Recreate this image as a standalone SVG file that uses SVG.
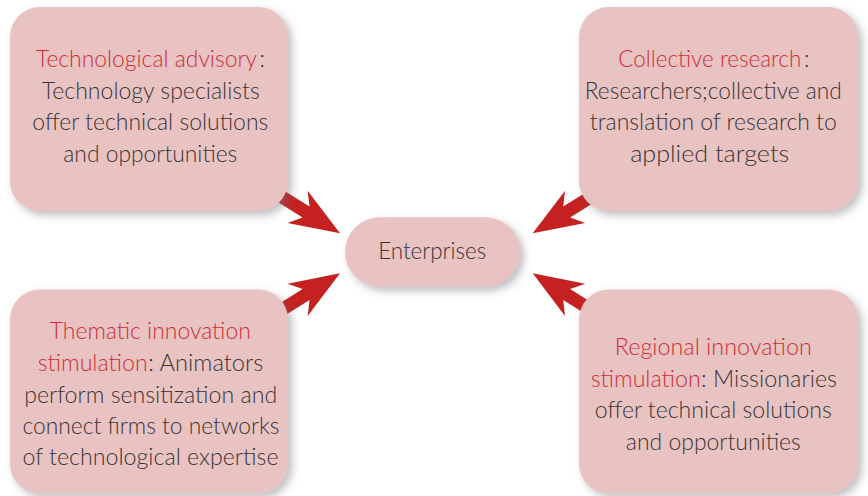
<svg xmlns="http://www.w3.org/2000/svg" width="868" height="496" viewBox="0 0 868 496">
  <defs>
    <filter id="shadow" x="-20%" y="-20%" width="150%" height="150%">
      <feDropShadow dx="4" dy="4" stdDeviation="4" flood-color="#6b6b78" flood-opacity="0.45"/>
    </filter>
    <!-- notched arrow, tip at origin, pointing along +x -->
    <path id="arrow" d="M0,0 L-50,-19 L-40,-6.5 L-95,-6.5 L-95,6.5 L-40,6.5 L-50,19 Z"/>
  </defs>
  <style>
    .box { fill: #e8c3c2; filter: url(#shadow); }
    .txt { font-family: Lato, "Open Sans", "Liberation Sans", sans-serif; font-size: 23px; font-weight: 300; fill: #3a3636; text-anchor: middle; }
    .st { text-anchor: start; }
    .hl { fill: #cf2e36; }
    .arr { fill: #c42120; }
  </style>
  <rect width="868" height="496" fill="#ffffff"/>

  <g id="connectors">
    <use href="#arrow" class="arr" transform="translate(340,233.3) rotate(32)"/>
    <use href="#arrow" class="arr" transform="translate(532.7,233.3) rotate(148)"/>
    <use href="#arrow" class="arr" transform="translate(340,273.3) rotate(-32)"/>
    <use href="#arrow" class="arr" transform="translate(532.7,273.3) rotate(212)"/>
  </g>

  <g id="technological-advisory">
    <rect class="box" x="10" y="7" width="278" height="204" rx="30"/>
    <text class="txt st hl" x="36" y="67" textLength="221" lengthAdjust="spacingAndGlyphs">Technological advisory</text>
    <text class="txt st" x="259.5" y="67">:</text>
    <text class="txt" x="150.8" y="98.5" textLength="218" lengthAdjust="spacingAndGlyphs">Technology specialists</text>
    <text class="txt" x="150.3" y="130" textLength="236" lengthAdjust="spacingAndGlyphs">offer technical solutions</text>
    <text class="txt" x="150.3" y="161.7" textLength="174" lengthAdjust="spacingAndGlyphs">and opportunities</text>
  </g>

  <g id="collective-research">
    <rect class="box" x="579" y="7" width="279" height="204" rx="30"/>
    <text class="txt st hl" x="618.3" y="67" textLength="183" lengthAdjust="spacingAndGlyphs">Collective research</text>
    <text class="txt st" x="804" y="67">:</text>
    <text class="txt" x="713.3" y="98.5" textLength="257" lengthAdjust="spacingAndGlyphs">Researchers;collective and</text>
    <text class="txt" x="713.3" y="130" textLength="247" lengthAdjust="spacingAndGlyphs">translation of research to</text>
    <text class="txt" x="709.7" y="161.7" textLength="159" lengthAdjust="spacingAndGlyphs">applied targets</text>
  </g>

  <g id="enterprises">
    <rect class="box" x="345" y="217.3" width="175" height="69.4" rx="34.7"/>
    <text class="txt" x="432.2" y="259" textLength="108" lengthAdjust="spacingAndGlyphs">Enterprises</text>
  </g>

  <g id="thematic-innovation">
    <rect class="box" x="10" y="289.5" width="278" height="204" rx="30"/>
    <text class="txt hl" x="150.3" y="339.3" textLength="201" lengthAdjust="spacingAndGlyphs">Thematic innovation</text>
    <text class="txt st hl" x="37.7" y="370.7" textLength="110" lengthAdjust="spacingAndGlyphs">stimulation</text>
    <text class="txt st" x="148.3" y="370.7" textLength="115" lengthAdjust="spacingAndGlyphs">: Animators</text>
    <text class="txt" x="150.7" y="402.7" textLength="253" lengthAdjust="spacingAndGlyphs">perform sensitization and</text>
    <text class="txt" x="151" y="434" textLength="257" lengthAdjust="spacingAndGlyphs">connect firms to networks</text>
    <text class="txt" x="150.5" y="465" textLength="256" lengthAdjust="spacingAndGlyphs">of technological expertise</text>
  </g>

  <g id="regional-innovation">
    <rect class="box" x="579" y="289.5" width="279" height="204" rx="30"/>
    <text class="txt hl" x="713.3" y="355" textLength="197" lengthAdjust="spacingAndGlyphs">Regional innovation</text>
    <text class="txt st hl" x="590.7" y="386.7" textLength="110" lengthAdjust="spacingAndGlyphs">stimulation</text>
    <text class="txt st" x="701" y="386.7" textLength="136" lengthAdjust="spacingAndGlyphs">: Missionaries</text>
    <text class="txt" x="713.3" y="418.3" textLength="237" lengthAdjust="spacingAndGlyphs">offer technical solutions</text>
    <text class="txt" x="713.3" y="450" textLength="175" lengthAdjust="spacingAndGlyphs">and opportunities</text>
  </g>
</svg>
